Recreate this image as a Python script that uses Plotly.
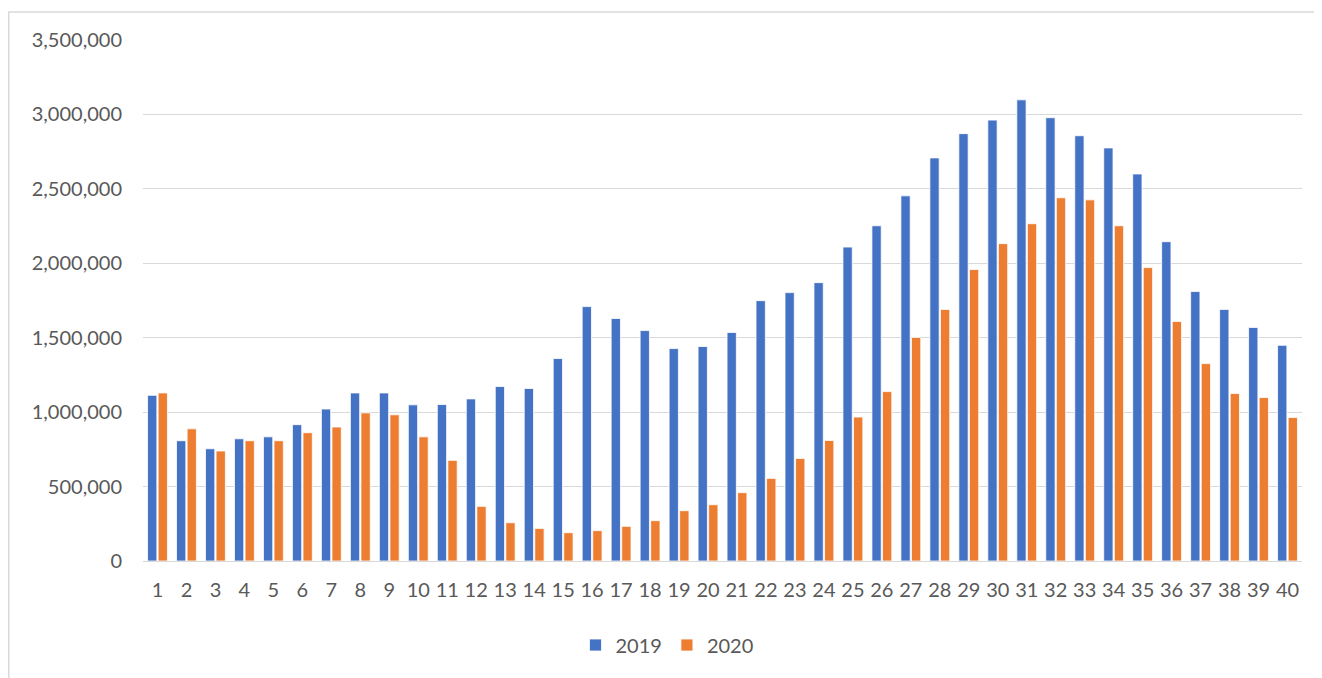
import plotly.graph_objects as go

categories = [str(i) for i in range(1, 41)]
values_2019 = [1113000, 808000, 754000, 821000, 834000, 916000, 1021000, 1129000, 1129000, 1049000,
               1051000, 1089000, 1172000, 1159000, 1360000, 1709000, 1629000, 1548000, 1427000, 1441000,
               1535000, 1749000, 1803000, 1870000, 2109000, 2252000, 2453000, 2708000, 2871000, 2962000,
               3098000, 2978000, 2857000, 2775000, 2600000, 2145000, 1810000, 1690000, 1569000, 1449000]
values_2020 = [1129000, 888000, 739000, 808000, 808000, 862000, 900000, 995000, 982000, 834000,
               676000, 367000, 257000, 219000, 190000, 204000, 233000, 271000, 338000, 378000,
               459000, 555000, 689000, 810000, 967000, 1138000, 1502000, 1690000, 1958000, 2132000,
               2266000, 2440000, 2426000, 2252000, 1971000, 1609000, 1326000, 1125000, 1098000, 964000]
y_ticks = [0, 500000, 1000000, 1500000, 2000000, 2500000, 3000000, 3500000]

# page has an 8px body margin; figure sized to fit the window
W, H = 1314, 670
L, R, T, B = 135, 20, 32, 117
font_family = "Lato, 'Open Sans', sans-serif"
gray = "#595959"

fig = go.Figure()
fig.add_trace(go.Bar(x=categories, y=values_2019, name="2019",
                     marker=dict(color="#4472C4", line=dict(color="white", width=0.8))))
fig.add_trace(go.Bar(x=categories, y=values_2020, name="2020",
                     marker=dict(color="#ED7D31", line=dict(color="white", width=0.8))))

pw = W - L - R
ph = H - T - B
fig.add_shape(type="rect", xref="paper", yref="paper",
              x0=(0.75 - L) / pw, x1=(W + 20 - L) / pw,
              y0=-(H + 20 - T - ph) / ph, y1=(H - 4 - B) / ph,
              line=dict(color="#d9d9d9", width=1.5), fillcolor="rgba(0,0,0,0)", layer="below")

fig.update_layout(
    width=W, height=H,
    margin=dict(l=L, r=R, t=T, b=B),
    paper_bgcolor="white", plot_bgcolor="white",
    barmode="group", bargap=0.27, bargroupgap=0.12,
    font=dict(family=font_family, size=20, color=gray),
    showlegend=True,
    legend=dict(orientation="h", x=(659 - L) / pw, xanchor="center",
                y=-84 / ph, yanchor="middle",
                font=dict(size=20, color=gray), itemwidth=30, traceorder="normal"),
    xaxis=dict(showgrid=False, showline=True, linecolor="#d9d9d9", linewidth=1,
               ticks="", tickfont=dict(size=20, color=gray), ticklabelstandoff=11,
               fixedrange=True),
    yaxis=dict(range=[0, 3500000], tickvals=y_ticks, tickformat=",d",
               showgrid=True, gridcolor="#d9d9d9", gridwidth=1,
               zeroline=False, showline=False, ticks="",
               tickfont=dict(size=20, color=gray), ticklabelstandoff=20,
               fixedrange=True),
)

fig.write_html("out.html")
